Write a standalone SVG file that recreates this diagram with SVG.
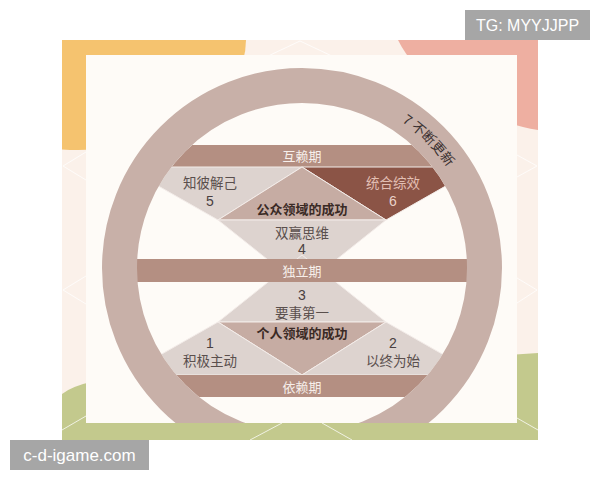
<svg xmlns="http://www.w3.org/2000/svg" width="600" height="480" viewBox="0 0 600 480">
<defs>
<style>
.bar{fill:#b48f82}
.lt{fill:#ddd3cf;stroke:#f3ece9;stroke-width:1}
.mid{fill:#c6aca3;stroke:#f3ece9;stroke-width:1}
.dk{fill:#8b5446;stroke:#f3ece9;stroke-width:1}
.bgl{fill:none;stroke:#ffffff;stroke-opacity:0.75;stroke-width:1}
.cj{font-family:"Noto Sans CJK SC","Noto Sans",sans-serif;text-anchor:middle}
.num{font-family:"Liberation Sans","Noto Sans",sans-serif;text-anchor:middle;font-size:14px}
.bt{font-size:13px;fill:#f7efeb}
.lbl{font-size:13.5px;fill:#5a4f4d}
.ctr{font-size:13px;font-weight:bold;fill:#3a2a25}
.wm{font-family:"Liberation Sans","Noto Sans",sans-serif;fill:#ffffff;text-anchor:middle}
</style>
<clipPath id="bgc"><rect x="62" y="40" width="476" height="400"/></clipPath>
<clipPath id="pc"><rect x="86" y="55" width="431" height="368"/></clipPath>
<clipPath id="ic"><circle cx="302" cy="268" r="165"/></clipPath>
<path id="arc" d="M302,91 A177,177 0 0 1 479,268"/>
</defs>

<g id="background" clip-path="url(#bgc)">
<rect x="62" y="40" width="476" height="400" fill="#fbf1ea"/>
<ellipse cx="78" cy="40" rx="168" ry="110" fill="#f5c36f"/>
<path d="M398,40 H538 V130 C480,120 420,85 398,40 Z" fill="#eeafa1"/>
<path d="M62,440 V394 Q72,386 95,381 L538,353 V440 Z" fill="#c3c98d"/>
<path class="bgl" d="M266,57 L300,41 L334,57"/>
<path class="bgl" d="M86,152 L63,166 L86,180"/>
<path class="bgl" d="M86,276 L63,290 L86,304"/>
<path class="bgl" d="M517,155 L537,166 L517,177"/>
<path class="bgl" d="M517,278 L537,290 L517,303"/>
<path class="bgl" d="M250,440 L282,423 M322,423 L352,440"/>
<path class="bgl" d="M62,430 L86,416 M517,418 L538,430"/>
</g>

<rect id="panel" x="86" y="55" width="431" height="368" fill="#fefbf7"/>

<g id="shapes" clip-path="url(#ic)">
<g id="bar-interdependence"><rect class="bar" x="120" y="145" width="370" height="22"/></g>
<g id="habit5"><polygon class="lt" points="302,167 218,220 140,175.6 140,167"/></g>
<g id="habit6"><polygon class="dk" points="302,167 386,220 464,175.6 464,167"/></g>
<g id="public-victory"><polygon class="mid" points="302,167 218,220 386,220"/></g>
<g id="habit4"><polygon class="lt" points="218,220 386,220 302,287"/></g>
<g id="habit3"><polygon class="lt" points="218,322 386,322 302,255"/></g>
<g id="private-victory"><polygon class="mid" points="218,322 386,322 302,375"/></g>
<g id="habit1"><polygon class="lt" points="218,322 302,375 140,375 140,366.4"/></g>
<g id="habit2"><polygon class="lt" points="386,322 302,375 464,375 464,366.4"/></g>
<g id="bar-dependence"><rect class="bar" x="120" y="375" width="370" height="22"/></g>
</g>
<g id="bar-independence"><rect class="bar" x="137" y="259" width="330" height="23"/></g>

<g id="ring" clip-path="url(#pc)">
<circle cx="302" cy="268" r="182.5" fill="none" stroke="#c8b0a8" stroke-width="35"/>
</g>

<g id="labels">
<text class="cj bt" x="302" y="161">互赖期</text>
<text class="cj lbl" x="210" y="188">知彼解己</text>
<text class="num" x="210" y="206" fill="#4a4040">5</text>
<text class="cj lbl" x="393" y="188" style="fill:#e2bfb3">统合综效</text>
<text class="num" x="393" y="206" fill="#ead2c9">6</text>
<text class="cj ctr" x="302" y="214">公众领域的成功</text>
<text class="cj lbl" x="302" y="238">双赢思维</text>
<text class="num" x="302" y="254" fill="#4a4040">4</text>
<text class="cj bt" x="302" y="276">独立期</text>
<text class="num" x="302" y="300" fill="#4a4040">3</text>
<text class="cj lbl" x="302" y="318">要事第一</text>
<text class="cj ctr" x="302" y="338">个人领域的成功</text>
<text class="num" x="210" y="348" fill="#4a4040">1</text>
<text class="cj lbl" x="210" y="366">积极主动</text>
<text class="num" x="393" y="348" fill="#4a4040">2</text>
<text class="cj lbl" x="393" y="366">以终为始</text>
<text class="cj bt" x="302" y="392">依赖期</text>
<text font-family="Noto Sans CJK SC, Noto Sans, sans-serif" font-size="13.5" fill="#3a3030"><textPath href="#arc" startOffset="106">7 不断更新</textPath></text>
</g>

<g id="watermarks">
<rect x="465" y="10" width="125" height="30" fill="#a6a6a6"/>
<text class="wm" x="527.5" y="31" font-size="16">TG: MYYJJPP</text>
<rect x="10" y="440" width="139" height="30" fill="#a6a6a6"/>
<text class="wm" x="79.5" y="461" font-size="17">c-d-igame.com</text>
</g>
</svg>
